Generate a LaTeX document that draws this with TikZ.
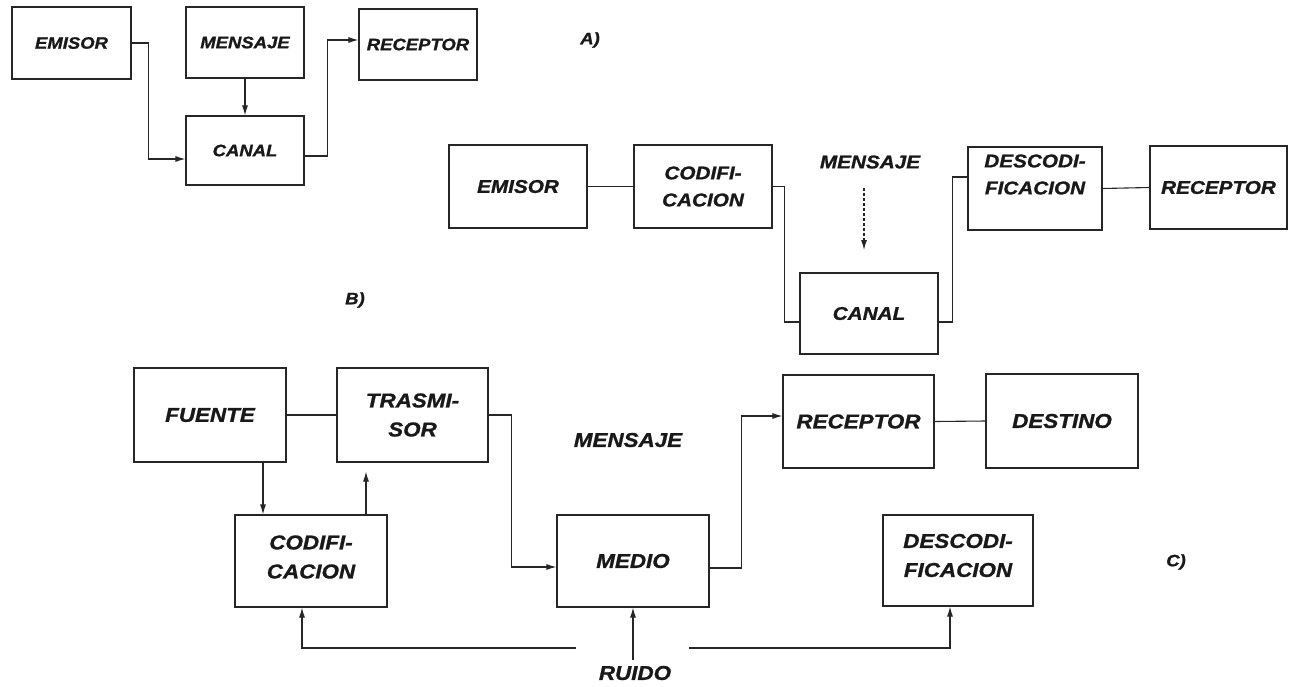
\documentclass[tikz,border=0pt]{standalone}
\usepackage{fontspec}
\newfontfamily\dia[FakeStretch=1.12, FakeBold=1.2]{Liberation Sans}
\usetikzlibrary{arrows.meta}
\tikzset{
  ln/.style={draw=black!85, line width=1.1pt},
  arr/.style={ln, -{Latex[length=10pt,width=6pt]}},
  fA/.style={font=\dia\bfseries\itshape\fontsize{16.5}{22}\selectfont},
  fB/.style={font=\dia\bfseries\itshape\fontsize{18.5}{27}\selectfont},
  fC/.style={font=\dia\bfseries\itshape\fontsize{20}{29}\selectfont},
  bx/.style={ln, align=center, inner sep=0pt, minimum width=#1},
  bx/.default=118pt,
}
\begin{document}
\begin{tikzpicture}[x=1pt, y=-1pt, text=black!90]
\useasboundingbox (0,0) rectangle (1292,686);

% ---------- A ----------
\node[bx=119pt, minimum height=72pt, fA] (aE) at (71.5,43) {EMISOR};
\node[bx, minimum height=71pt, fA] (aM) at (245,42.5) {MENSAJE};
\node[bx, minimum height=71pt, fA] (aR) at (418,44.5) {RECEPTOR};
\node[bx, minimum height=69pt, fA] (aC) at (245,150.5) {CANAL};
\node[fA] (labA) at (590,40) {A)};

\draw[arr] (aE.east) -- ++(17,0) |- ([yshift=-8.5pt]aC.west);
\draw[arr] (aM.south) -- (aC.north);
\draw[arr] ([yshift=-5.5pt]aC.east) -- ++(23,0) |- ([yshift=4.5pt]aR.west);

% ---------- B ----------
\node[bx=138pt, minimum height=83pt, fB] (bE) at (518,186.5) {EMISOR};
\node[bx=138pt, minimum height=83pt, fB] (bCo) at (703,186.5) {CODIFI-\\CACION};
\node[bx=138pt, minimum height=81pt, fB] (bCa) at (869,313.5) {CANAL};
\node[bx=134pt, minimum height=83pt,
      label={[fB, align=center, yshift=14pt]center:DESCODI-\\FICACION}] (bD) at (1035,188.5) {};
\node[bx=137pt, minimum height=83pt, fB] (bR) at (1218.5,187.5) {RECEPTOR};
\node[fB, inner sep=0pt] (bMsg) at (870,162) {MENSAJE};
\node[fA] (labB) at (355,300) {B)};
\coordinate (bTip) at (864,250);

\draw[ln] (bE.east) -- (bCo.west);
\draw[ln] (bCo.east) -- ++(12,0) |- ([yshift=-8.5pt]bCa.west);
\draw[ln] ([yshift=-8.5pt]bCa.east) -- ++(14,0) |- ([yshift=11.5pt]bD.west);
\draw[ln] (bD.east) -- (bR.west);
\draw[arr, densely dashed, shorten <=19pt] (bMsg.south -| bTip) -- (bTip);

% ---------- C ----------
\node[bx=152pt, minimum height=94pt, fC] (cF) at (210,415) {FUENTE};
\node[bx=151pt, minimum height=94pt, fC] (cT) at (412.5,415) {TRASMI-\\SOR};
\node[bx=152pt, minimum height=92pt,
      label={[fC, align=center, yshift=4pt]center:CODIFI-\\CACION}] (cCo) at (311,561) {};
\node[bx=152pt, minimum height=92pt, fC] (cM) at (633,561) {MEDIO};
\node[bx=151pt, minimum height=93pt, fC] (cR) at (858.5,421.5) {RECEPTOR};
\node[bx=152pt, minimum height=94pt, fC] (cDe) at (1062,421) {DESTINO};
\node[bx=150pt, minimum height=91pt,
      label={[fC, align=center, yshift=5pt]center:DESCODI-\\FICACION}] (cDc) at (958,560.5) {};
\node[fC] (cMsg) at (628,440) {MENSAJE};
\node[fC, inner sep=6pt] (ruido) at (635,673) {RUIDO};
\node[fA] (labC) at (1176,562) {C)};
\coordinate (nL) at (576,648);
\coordinate (nR) at (689,648);

\draw[ln] (cF.east) -- (cT.west);
\draw[arr] ([xshift=53pt]cF.south) -- ([xshift=-48pt]cCo.north);
\draw[arr, shorten >=9pt] ([xshift=55pt]cCo.north) -- ([xshift=-46.5pt]cT.south);
\draw[arr] (cT.east) -- ++(23,0) |- ([yshift=-6pt]cM.west);
\draw[arr] ([yshift=-7pt]cM.east) -- ++(32,0) |- ([yshift=5.5pt]cR.west);
\draw[ln] (cR.east) -- (cDe.west);
\draw[arr] (ruido.north -| cM.south) -- (cM.south);
\draw[arr] (nL) -| ([xshift=-9pt]cCo.south);
\draw[arr] (nR) -| ([xshift=-8pt]cDc.south);
\end{tikzpicture}
\end{document}
